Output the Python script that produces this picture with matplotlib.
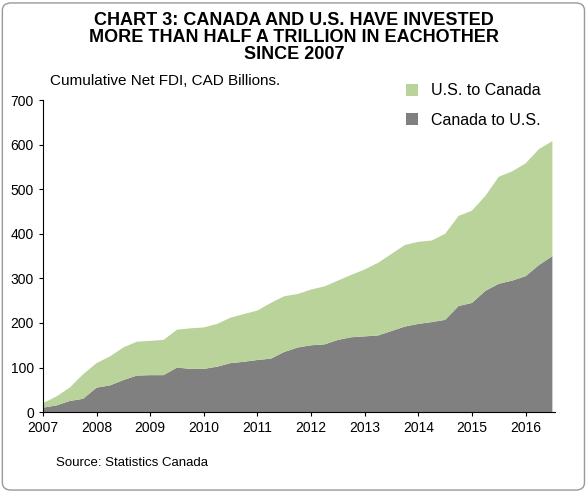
import matplotlib.pyplot as plt
import numpy as np
from matplotlib.patches import FancyBboxPatch

plt.rcParams['font.family'] = ['Liberation Sans', 'DejaVu Sans']

# quarterly, 2007Q1 .. 2016Q3
years = np.arange(39) * 0.25 + 2007
total = [20, 35, 55, 85, 110, 125, 145, 158, 160, 162, 185, 188, 190, 198, 212, 220,
         228, 245, 260, 265, 275, 282, 295, 308, 320, 335, 355, 375, 382, 385, 400, 440,
         452, 485, 528, 540, 558, 590, 608]
can_to_us = [10, 15, 25, 30, 55, 60, 72, 82, 83, 83, 100, 97, 97, 102, 110, 113,
             117, 120, 135, 145, 150, 152, 162, 168, 170, 172, 182, 192, 198, 202, 207, 238,
             245, 272, 288, 295, 305, 330, 350]
us_to_can = [t - c for t, c in zip(total, can_to_us)]

fig = plt.figure(figsize=(5.88, 4.93), dpi=100)
ax = fig.add_axes([0.073, 0.164, 0.871, 0.633])

ax.stackplot(years, can_to_us, us_to_can, colors=['#808080', '#B9D39A'],
             labels=['Canada to U.S.', 'U.S. to Canada'])
ax.set_xlim(2007, 2016.55)
ax.set_ylim(0, 700)
ax.set_yticks(range(0, 701, 100))
ax.set_xticks(range(2007, 2017))
ax.tick_params(labelsize=10, direction='out', length=3)
for s in ['top', 'right']:
    ax.spines[s].set_visible(False)

h, l = ax.get_legend_handles_labels()
ax.legend(h[::-1], l[::-1], loc='upper right', bbox_to_anchor=(1.0, 1.1), frameon=False,
          fontsize=11.5, handlelength=0.8, handleheight=0.8, labelspacing=0.9)

fig.text(0.5, 0.975, 'CHART 3: CANADA AND U.S. HAVE INVESTED\nMORE THAN HALF A TRILLION IN EACHOTHER\nSINCE 2007',
         ha='center', va='top', fontsize=13, fontweight='bold', linespacing=1.0)
fig.text(0.085, 0.828, 'Cumulative Net FDI, CAD Billions.', fontsize=11)
fig.text(0.095, 0.055, 'Source: Statistics Canada', fontsize=9.5)

fig.patches.append(FancyBboxPatch((0.004, 0.006), 0.99, 0.988, boxstyle='round,pad=0,rounding_size=0.015',
                                  transform=fig.transFigure, fill=False, edgecolor='#999999', lw=1))
fig.savefig('out.png', dpi=100)
